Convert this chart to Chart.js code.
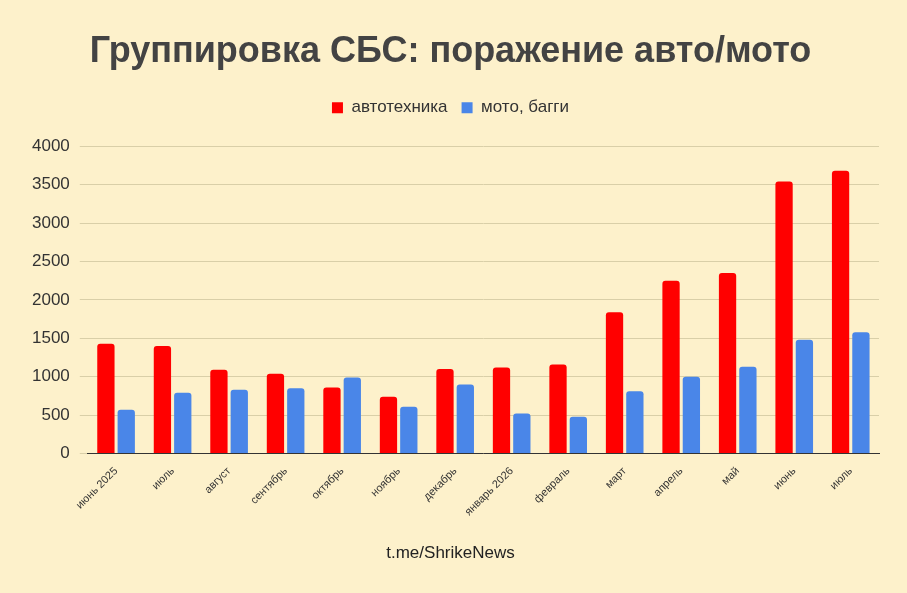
<!DOCTYPE html>
<html><head><meta charset="utf-8">
<script src="https://cdn.jsdelivr.net/npm/chart.js@4/dist/chart.umd.min.js"></script>
<style>
html,body{margin:0;padding:0;background:#fdf1cb;}
#wrap{position:relative;width:907px;height:593px;}
</style></head><body>
<div id="wrap"><canvas id="c" width="907" height="593"></canvas></div>
<script>
const categories = ["июнь 2025","июль","август","сентябрь","октябрь","ноябрь","декабрь","январь 2026","февраль","март","апрель","май","июнь","июль"];
const autoValues = [1430,1400,1090,1040,860,740,1100,1120,1160,1840,2250,2350,3540,3680];
const motoValues = [570,790,830,850,990,610,900,520,480,810,1000,1130,1480,1580];
const yTicks = [0,500,1000,1500,2000,2500,3000,3500,4000];

const FONT = "'Liberation Sans', Arial, sans-serif";

// extra gap between legend and plot
const legendGap = {
  id: "legendGap",
  beforeInit(chart) {
    const fit = chart.legend.fit;
    chart.legend.fit = function () {
      fit.bind(chart.legend)();
      this.height += 20;
    };
  },
};

new Chart(document.getElementById("c"), {
  type: "bar",
  data: {
    labels: categories,
    datasets: [
      { label: "автотехника", data: autoValues, backgroundColor: "#ff0000", borderRadius: 3, categoryPercentage: 0.72, barPercentage: 0.85 },
      { label: "мото, багги", data: motoValues, backgroundColor: "#4a86e8", borderRadius: 3, categoryPercentage: 0.72, barPercentage: 0.85 },
    ],
  },
  plugins: [legendGap],
  options: {
    responsive: false,
    animation: false,
    layout: { padding: { left: 22, right: 28, top: 12, bottom: 29 } },
    plugins: {
      title: { display: true, text: "Группировка СБС: поражение авто/мото", color: "#434343",
        font: { family: FONT, size: 36, weight: "bold" }, padding: { top: 18, bottom: 12 } },
      subtitle: { display: true, position: "bottom", text: "t.me/ShrikeNews", color: "#222",
        font: { family: FONT, size: 17 }, padding: { top: 22, bottom: 0 } },
      legend: { labels: { boxWidth: 11, boxHeight: 11, color: "#333", font: { family: FONT, size: 17 }, padding: 14 } },
      tooltip: { enabled: false },
    },
    scales: {
      x: {
        grid: { display: false },
        border: { color: "#333" },
        ticks: { color: "#333", maxRotation: 45, minRotation: 45, font: { family: FONT, size: 11 } },
      },
      y: {
        min: 0, max: 4000,
        afterBuildTicks: (axis) => { axis.ticks = yTicks.map((v) => ({ value: v })); },
        grid: { color: "#d9cfa8" },
        border: { display: false },
        ticks: { color: "#333", padding: 10, font: { family: FONT, size: 17 }, callback: (v) => String(v) },
      },
    },
  },
});
</script>
</body></html>
